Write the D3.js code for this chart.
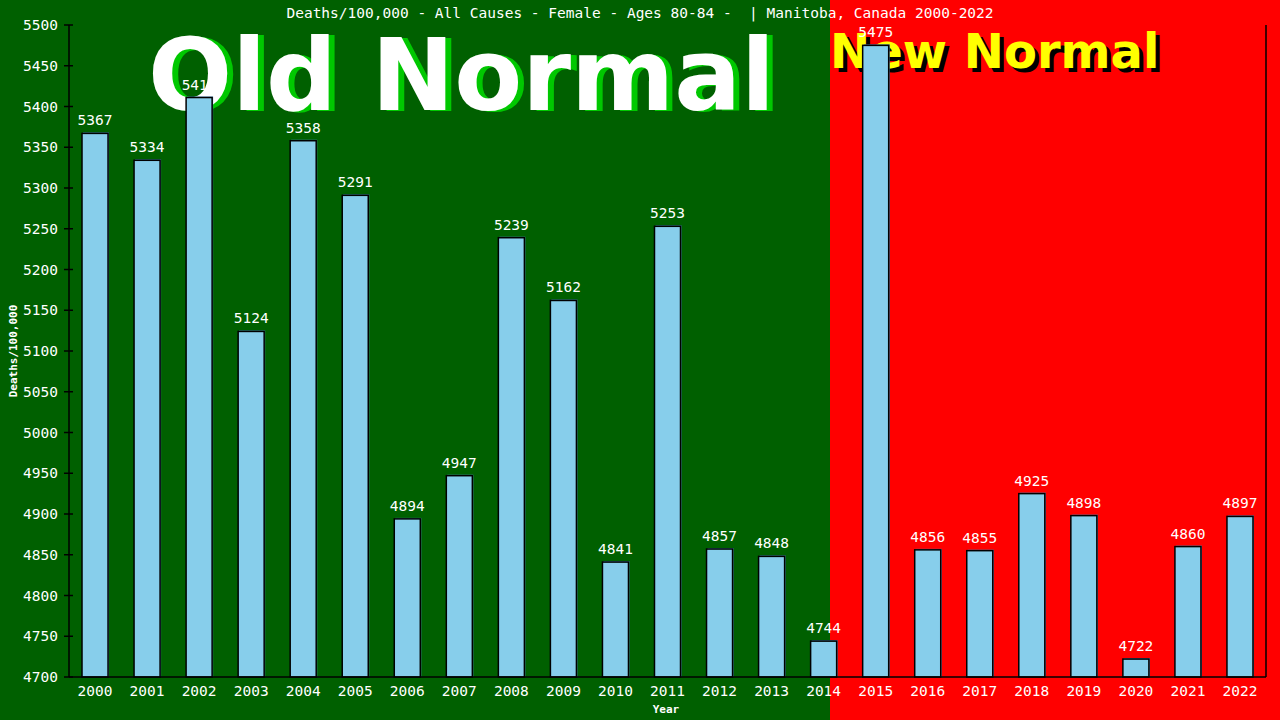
<!DOCTYPE html>
<html><head><meta charset="utf-8">
<script src="https://cdn.jsdelivr.net/npm/d3@7"></script>
<style>html,body{margin:0;padding:0;background:#fff;}svg{display:block;}</style>
</head><body>
<script>
const years = ["2000","2001","2002","2003","2004","2005","2006","2007","2008","2009","2010","2011","2012","2013","2014","2015","2016","2017","2018","2019","2020","2021","2022"];
const deaths = [5367,5334,5411,5124,5358,5291,4894,4947,5239,5162,4841,5253,4857,4848,4744,5475,4856,4855,4925,4898,4722,4860,4897];
const yTicks = [4700,4750,4800,4850,4900,4950,5000,5050,5100,5150,5200,5250,5300,5350,5400,5450,5500];
const titleText = "Deaths/100,000 - All Causes - Female - Ages 80-84 -  | Manitoba, Canada 2000-2022";
const yTitle = "Deaths/100,000";
const xTitle = "Year";
const oldLabel = "Old Normal";
const newLabel = "New Normal";

const W = 1280, H = 720;
const m = {left:69, right:14, top:25, bottom:43};
const svg = d3.select("body").append("svg").attr("width",W).attr("height",H);

const x = d3.scaleBand().domain(years).range([m.left, W-m.right]).paddingInner(0.5).paddingOuter(0.25);
const y = d3.scaleLinear().domain([4700,5500]).range([H-m.bottom, m.top]);

const splitX = 830;
svg.append("rect").attr("x",0).attr("y",0).attr("width",splitX).attr("height",H).attr("fill","#006000");
svg.append("rect").attr("x",splitX).attr("y",0).attr("width",W-splitX).attr("height",H).attr("fill","#ff0000");

// big labels
const big = svg.append("g").attr("font-family","DejaVu Sans, sans-serif").attr("font-weight","bold");
big.append("text").attr("x",154).attr("y",111).attr("font-size",99).attr("fill","#00c800").text(oldLabel);
big.append("text").attr("x",148).attr("y",110).attr("font-size",99).attr("fill","#ffffff").text(oldLabel);
big.append("text").attr("x",834).attr("y",72).attr("font-size",48).attr("fill","#000000").text(newLabel);
big.append("text").attr("x",830).attr("y",68).attr("font-size",48).attr("fill","#ffff00").text(newLabel);

// title
svg.append("text").attr("x",640).attr("y",18).attr("text-anchor","middle")
  .attr("font-family","DejaVu Sans Mono, monospace").attr("font-size",14.5).attr("fill","#fff")
  .attr("xml:space","preserve").style("white-space","pre").text(titleText);

// bars
const bw = x.bandwidth();
const bars = svg.append("g");
years.forEach((yr,i)=>{
  const v = deaths[i];
  const x0 = x(yr), y0 = y(v), h = y(4700)-y(v);
  bars.append("rect").attr("x",x0+1).attr("y",y0-1).attr("width",bw).attr("height",h+1).attr("fill","#4682b4");
  bars.append("rect").attr("x",x0).attr("y",y0).attr("width",bw).attr("height",h)
    .attr("fill","#87ceeb").attr("stroke","#000").attr("stroke-width",1.5);
});
// value labels
const labels = svg.append("g").attr("font-family","DejaVu Sans Mono, monospace").attr("font-size",14.5).attr("fill","#fff").attr("text-anchor","middle");
years.forEach((yr,i)=>{
  labels.append("text").attr("x",x(yr)+bw/2).attr("y",y(deaths[i])-8).text(deaths[i]);
});

// axes
const ax = svg.append("g").attr("stroke","#000").attr("stroke-width",1.5);
ax.append("line").attr("x1",m.left).attr("x2",m.left).attr("y1",m.top).attr("y2",H-m.bottom);
ax.append("line").attr("x1",W-m.right).attr("x2",W-m.right).attr("y1",m.top).attr("y2",H-m.bottom);
ax.append("line").attr("x1",m.left).attr("x2",W-m.right).attr("y1",H-m.bottom).attr("y2",H-m.bottom);
yTicks.forEach(t=>{
  ax.append("line").attr("x1",m.left-5).attr("x2",m.left+4).attr("y1",y(t)).attr("y2",y(t));
});
const tl = svg.append("g").attr("font-family","DejaVu Sans Mono, monospace").attr("font-size",14.5).attr("fill","#fff");
yTicks.forEach(t=>{
  tl.append("text").attr("x",58).attr("y",y(t)).attr("dy","0.35em").attr("text-anchor","end").text(t);
});
years.forEach(yr=>{
  tl.append("text").attr("x",x(yr)+bw/2).attr("y",696).attr("text-anchor","middle").text(yr);
});
// axis titles
svg.append("text").attr("x",666).attr("y",713).attr("text-anchor","middle")
  .attr("font-family","DejaVu Sans Mono, monospace").attr("font-weight","bold").attr("font-size",11).attr("fill","#fff").text(xTitle);
svg.append("text").attr("transform","translate(17,351) rotate(-90)").attr("text-anchor","middle")
  .attr("font-family","DejaVu Sans Mono, monospace").attr("font-weight","bold").attr("font-size",11).attr("fill","#fff").text(yTitle);
</script>
</body></html>
